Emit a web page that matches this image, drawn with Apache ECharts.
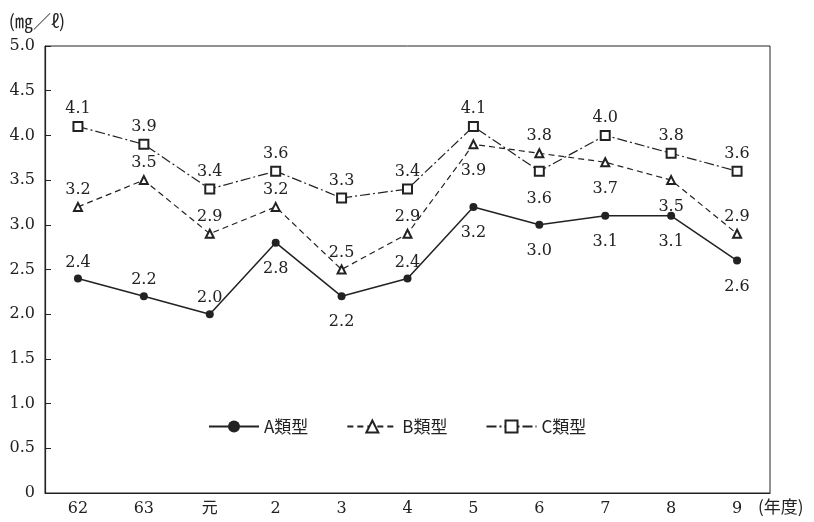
<!DOCTYPE html>
<html><head><meta charset="utf-8">
<script src="https://cdn.jsdelivr.net/npm/echarts@6/dist/echarts.min.js"></script>
<style>html,body{margin:0;padding:0;background:#fff}#c{width:814px;height:522px}</style>
</head><body><div id="c"></div>
<script>
var categories = ['62','63','元','2','3','4','5','6','7','8','9'];
var seriesA = [2.4,2.2,2.0,2.8,2.2,2.4,3.2,3.0,3.1,3.1,2.6];
var seriesB = [3.2,3.5,2.9,3.2,2.5,2.9,3.9,3.8,3.7,3.5,2.9];
var seriesC = [4.1,3.9,3.4,3.6,3.3,3.4,4.1,3.6,4.0,3.8,3.6];
var labelPosA = ['top','top','top','bottom','bottom','top','bottom','bottom','bottom','bottom','bottom'];
var labelPosB = ['top','top','top','top','top','top','bottom','top','bottom','bottom','top'];
var labelPosC = ['top','top','top','top','top','top','top','bottom','top','top','top'];
var seriesNames = ['A類型','B類型','C類型'];

var numFont = 'DejaVu Serif, Noto Sans CJK JP, serif';
var ink = '#222';
function mk(vals, pos) {
  return vals.map(function (v, i) {
    return { value: v, label: { position: pos[i], distance: pos[i] === 'top' ? 4 : 14 } };
  });
}
var lbl = { show: true, color: ink, fontFamily: numFont, fontSize: 16,
  formatter: function (p) { return p.value.toFixed(1); } };

var chart = echarts.init(document.getElementById('c'));
chart.setOption({
  animation: false,
  backgroundColor: '#fff',
  grid: { left: 45, right: 44, top: 46, bottom: 29, show: true, borderColor: ink, borderWidth: 1 },
  legend: {
    left: 203, top: 413, itemWidth: 50, itemHeight: 15, itemGap: 38,
    textStyle: { color: ink, fontSize: 17, fontFamily: 'Noto Sans CJK JP' },
    data: seriesNames
  },
  xAxis: {
    type: 'category', data: categories, boundaryGap: true,
    axisLine: { lineStyle: { color: ink, width: 1.2 } },
    axisTick: { inside: true, alignWithLabel: true, length: 6, lineStyle: { color: ink } },
    axisLabel: { color: ink, fontFamily: numFont, fontSize: 16, margin: 8 },
    name: '(年度)', nameLocation: 'end', nameGap: -12,
    nameTextStyle: { color: ink, fontSize: 17, fontFamily: 'Noto Sans CJK JP', align: 'left', verticalAlign: 'top', padding: [5, 0, 0, 0] }
  },
  yAxis: {
    type: 'value', min: 0, max: 5, interval: 0.5,
    splitLine: { show: false },
    axisLine: { show: true, lineStyle: { color: ink, width: 1.2 } },
    axisTick: { show: true, inside: true, length: 6, lineStyle: { color: ink } },
    axisLabel: { color: ink, fontFamily: numFont, fontSize: 16, margin: 10,
      formatter: function (v) { return v === 0 ? '0' : v.toFixed(1); } },
    name: '(㎎／ℓ)', nameLocation: 'end', nameGap: 16,
    nameTextStyle: { color: ink, fontSize: 18, fontFamily: 'Noto Sans CJK JP', align: 'center', padding: [0, 16, 0, 0] }
  },
  series: [
    { name: seriesNames[0], type: 'line', data: mk(seriesA, labelPosA), symbol: 'circle', symbolSize: 8,
      lineStyle: { color: ink, width: 1.5 }, itemStyle: { color: ink }, label: lbl, z: 4 },
    { name: seriesNames[1], type: 'line', data: mk(seriesB, labelPosB), symbol: 'emptyTriangle', symbolSize: 8,
      lineStyle: { color: ink, width: 1.2, type: [6, 4] }, itemStyle: { color: ink, borderColor: ink }, label: lbl, z: 3 },
    { name: seriesNames[2], type: 'line', data: mk(seriesC, labelPosC), symbol: 'emptyRect', symbolSize: 9,
      lineStyle: { color: ink, width: 1.2, type: [10, 3, 2, 3] }, itemStyle: { color: ink, borderColor: ink }, label: lbl, z: 5 }
  ]
});
</script></body></html>
